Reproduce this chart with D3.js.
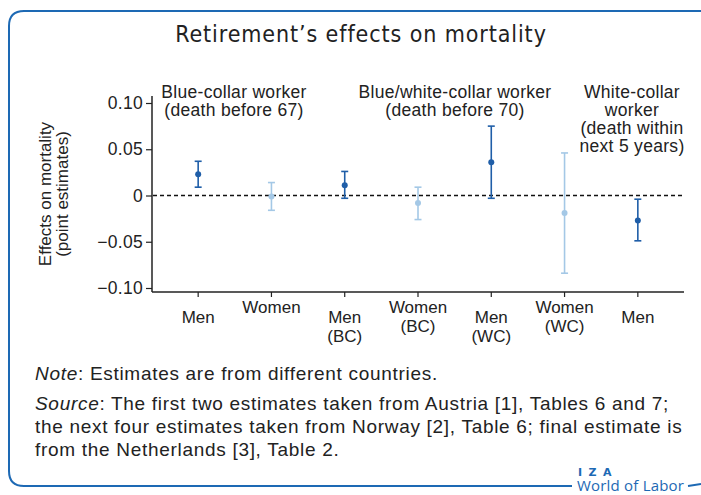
<!DOCTYPE html>
<meta charset="utf-8">
<script src="https://d3js.org/d3.v7.min.js"></script>
<style>
  body { margin: 0; background: #fff; }
  text { font-family: "Liberation Sans", Arial, sans-serif; fill: #222; }
</style>
<div id="chart"></div>
<script>
// data
const categories = [["Men"], ["Women"], ["Men", "(BC)"], ["Women", "(BC)"], ["Men", "(WC)"], ["Women", "(WC)"], ["Men"]];
const sex = ["Men", "Women", "Men", "Women", "Men", "Women", "Men"];
const estimates = [0.023, -0.001, 0.011, -0.008, 0.036, -0.019, -0.027];
const lower = [0.009, -0.016, -0.003, -0.026, -0.003, -0.084, -0.049];
const upper = [0.037, 0.014, 0.026, 0.009, 0.075, 0.046, -0.004];
const yTicks = [-0.10, -0.05, 0, 0.05, 0.10];
const groups = [
  {lines: ["Blue-collar worker", "(death before 67)"], x: 234},
  {lines: ["Blue/white-collar worker", "(death before 70)"], x: 455},
  {lines: ["White-collar", "worker", "(death within", "next 5 years)"], x: 632}
];

const W = 701, H = 495;
const blue = "#1d69b4";
const dark = "#1f5ea8", light = "#a4c8e6";

const svg = d3.select("#chart").append("svg")
  .attr("width", W).attr("height", H);

// frame
svg.append("path")
  .attr("d", "M701,11 H24 Q9,11 9,26 V471 Q9,486 24,486 H572")
  .attr("fill", "none").attr("stroke", blue).attr("stroke-width", 2);
svg.append("path")
  .attr("d", "M688,486 L701,484")
  .attr("fill", "none").attr("stroke", blue).attr("stroke-width", 2);
svg.append("text").attr("x", 578).attr("y", 476)
  .style("font-family", "'DejaVu Sans', sans-serif").style("font-weight", "bold")
  .style("font-size", "11px").style("letter-spacing", "6.5px").style("fill", blue)
  .text("IZA");
svg.append("text").attr("x", 577).attr("y", 491)
  .style("font-family", "'Open Sans', sans-serif")
  .style("font-size", "15px").style("letter-spacing", "0.2px").style("fill", blue)
  .text("World of Labor");

// title
svg.append("text").attr("x", 361).attr("y", 42)
  .attr("text-anchor", "middle")
  .style("font-family", "'DejaVu Sans Condensed', 'Liberation Sans Narrow', sans-serif")
  .style("font-size", "23px").style("letter-spacing", "0.9px").style("fill", "#222")
  .text("Retirement’s effects on mortality");

// scales
const x = d3.scalePoint()
  .domain(d3.range(categories.length))
  .range([152, 684])
  .padding(0.63);
const y = d3.scaleLinear().domain([-0.10, 0.10]).range([288, 103]);

// y axis
const yAxis = svg.append("g")
  .attr("transform", "translate(152,0)")
  .call(d3.axisLeft(y).tickValues(yTicks).tickSize(6).tickPadding(3)
    .tickFormat(d => d === 0 ? "0" : d3.format(".2f")(d)));
yAxis.select(".domain").remove();
yAxis.selectAll("text").style("font-size", "17.5px").style("letter-spacing", "0.3px")
  .style("fill", "#222").style("font-family", "'Liberation Sans', Arial, sans-serif");
yAxis.selectAll("line").attr("stroke", "#222").attr("stroke-width", 1.2);
svg.append("line").attr("x1", 152).attr("x2", 152).attr("y1", 96).attr("y2", 292)
  .attr("stroke", "#222").attr("stroke-width", 1.5);

// x axis
svg.append("line").attr("x1", 152).attr("x2", 684).attr("y1", 292).attr("y2", 292)
  .attr("stroke", "#222").attr("stroke-width", 1.5);
svg.selectAll(".xtick").data(categories).join("line")
  .attr("x1", (d, i) => x(i)).attr("x2", (d, i) => x(i))
  .attr("y1", 292).attr("y2", 297)
  .attr("stroke", "#222").attr("stroke-width", 1.2);
svg.selectAll(".xlab").data(categories).join("text")
  .attr("text-anchor", "middle")
  .attr("transform", (d, i) => `translate(${x(i)},${sex[i] === "Men" ? 323 : 313})`)
  .style("font-size", "17px")
  .selectAll("tspan").data(d => d).join("tspan")
  .attr("x", 0).attr("dy", (d, j) => j === 0 ? 0 : 18.5)
  .text(d => d);

// y label
const ylab = svg.append("text").attr("text-anchor", "middle")
  .attr("transform", "translate(51,194) rotate(-90)")
  .style("font-size", "17px");
ylab.append("tspan").attr("x", 0).attr("dy", 0).text("Effects on mortality");
ylab.append("tspan").attr("x", 0).attr("dy", 17).text("(point estimates)");

// zero line
svg.append("line").attr("x1", 153).attr("x2", 684).attr("y1", y(0)).attr("y2", y(0))
  .attr("stroke", "#111").attr("stroke-width", 1.3).attr("stroke-dasharray", "4,3");

// error bars
const pts = svg.selectAll(".pt").data(estimates).join("g");
pts.append("line")
  .attr("x1", (d, i) => x(i)).attr("x2", (d, i) => x(i))
  .attr("y1", (d, i) => y(upper[i])).attr("y2", (d, i) => y(lower[i]))
  .attr("stroke", (d, i) => sex[i] === "Men" ? dark : light).attr("stroke-width", 1.6);
[upper, lower].forEach(arr => {
  pts.append("line")
    .attr("x1", (d, i) => x(i) - 3.5).attr("x2", (d, i) => x(i) + 3.5)
    .attr("y1", (d, i) => y(arr[i])).attr("y2", (d, i) => y(arr[i]))
    .attr("stroke", (d, i) => sex[i] === "Men" ? dark : light).attr("stroke-width", 1.6);
});
pts.append("circle")
  .attr("cx", (d, i) => x(i)).attr("cy", d => y(d)).attr("r", 3)
  .attr("fill", (d, i) => sex[i] === "Men" ? dark : light);

// group labels
groups.forEach(g => {
  const t = svg.append("text").attr("text-anchor", "middle")
    .attr("transform", `translate(${g.x},98)`)
    .style("font-size", "17.5px").style("letter-spacing", "0.3px");
  g.lines.forEach((l, j) => t.append("tspan").attr("x", 0).attr("dy", j === 0 ? 0 : 18).text(l));
});

// notes
const notes = svg.append("g").style("font-size", "19px").style("letter-spacing", "0.7px");
const n1 = notes.append("text").attr("x", 35).attr("y", 380);
n1.append("tspan").style("font-style", "italic").text("Note");
n1.append("tspan").text(": Estimates are from different countries.");
const srcLines = [
  "The first two estimates taken from Austria [1], Tables 6 and 7;",
  "the next four estimates taken from Norway [2], Table 6; final estimate is",
  "from the Netherlands [3], Table 2."
];
const n2 = notes.append("text").attr("x", 35).attr("y", 410);
n2.append("tspan").style("font-style", "italic").text("Source");
n2.append("tspan").text(": " + srcLines[0]);
srcLines.slice(1).forEach((l, j) => notes.append("text").attr("x", 35).attr("y", 433 + j * 23).text(l));
</script>
